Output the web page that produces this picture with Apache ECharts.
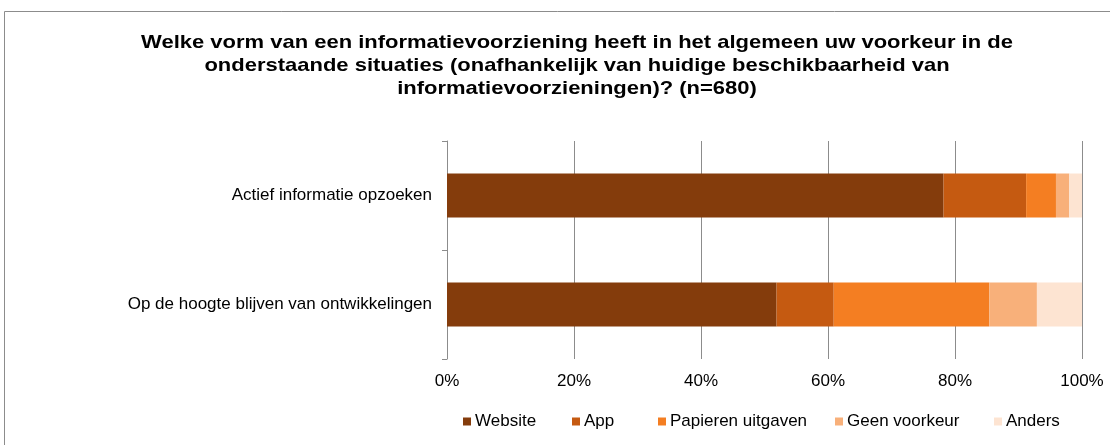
<!DOCTYPE html>
<html lang="nl">
<head>
    <meta charset="UTF-8">
    <script src="https://cdn.jsdelivr.net/npm/echarts@6/dist/echarts.min.js"></script>
    <style>
        html, body { margin: 0; padding: 0; background: #fff; }
        #main { width: 1110px; height: 445px; }
    </style>
</head>
<body>
    <div id="main"></div>
</body>
<script>
    var categories = ['Op de hoogte blijven van ontwikkelingen', 'Actief informatie opzoeken'];
    var seriesNames = ['Website', 'App', 'Papieren uitgaven', 'Geen voorkeur', 'Anders'];
    var website = [51.9, 78.2];
    var app = [9.0, 13.0];
    var papieren = [24.5, 4.7];
    var geenVoorkeur = [7.5, 2.1];
    var anders = [7.1, 2.0];
    var xTicks = ['0%', '20%', '40%', '60%', '80%', '100%'];

    var colors = ['#843c0c', '#c55a11', '#f47e22', '#f8b07a', '#fde4d2'];
    var values = [website, app, papieren, geenVoorkeur, anders];
    var legendLeft = [463, 572, 658, 835, 994];
    var font = 'Liberation Sans, Arial, sans-serif';

    var myChart = echarts.init(document.getElementById('main'));

    var series = seriesNames.map(function (name, i) {
        return {
            name: name,
            type: 'bar',
            stack: 'totaal',
            barWidth: 44,
            itemStyle: { color: colors[i] },
            data: values[i]
        };
    });

    // one legend per item so the spacing follows the original
    var legends = seriesNames.map(function (name, i) {
        return {
            left: legendLeft[i],
            top: 413,
            padding: 0,
            icon: 'rect',
            itemWidth: 8,
            itemHeight: 8,
            itemGap: 0,
            textStyle: { fontFamily: font, fontSize: 17, color: '#000', padding: [0, 0, 0, -1] },
            data: [name]
        };
    });

    var option = {
        animation: false,
        color: colors,
        graphic: [
            {
                type: 'rect',
                shape: { x: 4.5, y: 11.5, width: 1200, height: 500 },
                style: { fill: 'none', stroke: '#8c8c8c', lineWidth: 1 },
                silent: true
            },
            {
                // title is a bit wider than the font, as in the original
                type: 'text',
                x: 577,
                y: 31,
                scaleX: 1.157,
                style: {
                    text: 'Welke vorm van een informatievoorziening heeft in het algemeen uw voorkeur in de\nonderstaande situaties (onafhankelijk van huidige beschikbaarheid van\ninformatievoorzieningen)? (n=680)',
                    textAlign: 'center',
                    font: 'bold 19px ' + font,
                    lineHeight: 23,
                    fill: '#000'
                }
            }
        ],
        grid: { left: 447, right: 28, top: 141, bottom: 86 },
        legend: legends,
        xAxis: {
            type: 'value',
            min: 0,
            max: 100,
            interval: 20,
            axisLine: { show: false },
            axisTick: { show: false },
            splitLine: { show: true, lineStyle: { color: '#8c8c8c', width: 1 } },
            axisLabel: {
                fontFamily: font,
                fontSize: 17,
                color: '#000',
                margin: 14,
                formatter: function (v) { return xTicks[v / 20]; }
            }
        },
        yAxis: {
            type: 'category',
            data: categories,
            axisLine: { show: true, lineStyle: { color: '#8c8c8c', width: 1 } },
            axisTick: { show: true, length: 5, lineStyle: { color: '#8c8c8c' } },
            axisLabel: { fontFamily: font, fontSize: 17, color: '#000', margin: 15 }
        },
        series: series
    };
    myChart.setOption(option);
</script>
</html>
